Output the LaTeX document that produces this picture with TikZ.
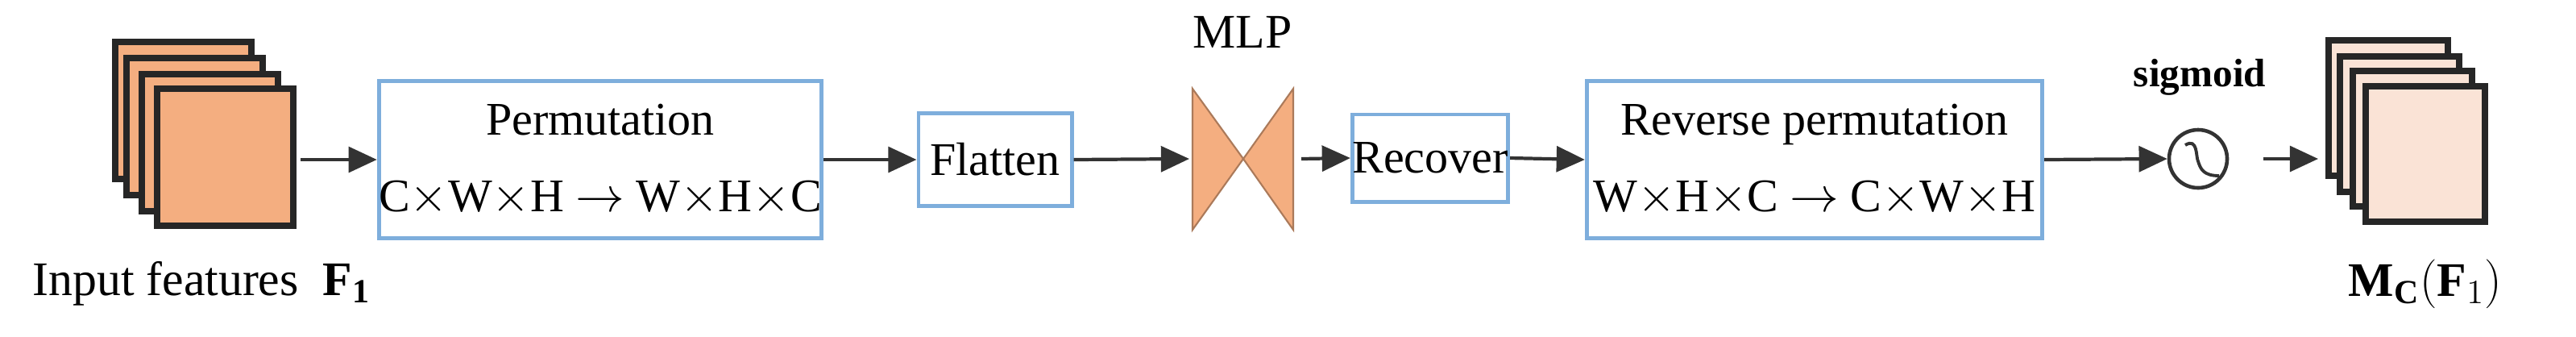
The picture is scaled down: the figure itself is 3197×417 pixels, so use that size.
\documentclass[tikz,border=0pt]{standalone}
\usepackage{fontspec}
\setmainfont{Liberation Serif}
\usetikzlibrary{arrows.meta}
\definecolor{org}{HTML}{F4AE80}
\definecolor{lorg}{HTML}{FAE3D6}
\definecolor{bblue}{HTML}{7EAEDC}
\begin{document}
\begin{tikzpicture}[x=0.01cm,y=-0.01cm,
  box/.style={draw=bblue,line width=1.4pt,fill=white,align=center,inner sep=0pt,font=\fontsize{16.5}{22}\selectfont},
  arr/.style={-{Triangle[length=10pt,width=9pt]},line width=1.2pt,draw=black!80},
  sq/.style={draw=black!85,line width=2.2pt},
  lab/.style={font=\fontsize{17}{21}\selectfont}]
\useasboundingbox (0,0) rectangle (3197,417);
% left stack
\foreach \dx/\dy in {0/0,14/20,33/40,52/58}
  \filldraw[sq,fill=org] (143+\dx,52+\dy) rectangle ++(169,170);
\node[coordinate] (in) at (373,198) {};
\node[lab,anchor=west] (inlab) at (28,352) {Input features \ \textbf{F\textsubscript{1}}};
% boxes
\node[box,minimum width=5.1cm,minimum height=1.95cm] (perm) at (745,198) {Permutation\\[5pt] C$\times$W$\times$H $\rightarrow$ W$\times$H$\times$C};
\node[box,minimum width=1.9cm,minimum height=1.15cm] (flat) at (1235,198) {Flatten};
% MLP bowtie
\filldraw[fill=org,draw=org!70!black,line width=0.6pt] (1480,110) -- (1480,285) -- (1543,197) -- cycle;
\filldraw[fill=org,draw=org!70!black,line width=0.6pt] (1605,110) -- (1605,285) -- (1543,197) -- cycle;
\node[coordinate] (mlpL) at (1476,197) {};
\node[coordinate] (mlpR) at (1615,197) {};
\node[lab] (mlp) at (1542,40) {MLP};
\node[box,minimum width=1.9cm,minimum height=1.08cm] (rec) at (1775,196) {Recover};
\node[box,minimum width=5.65cm,minimum height=1.95cm] (rperm) at (2252,198) {Reverse permutation\\[5pt] W$\times$H$\times$C $\rightarrow$ C$\times$W$\times$H};
% sigmoid
\node[draw=black!80,line width=1.3pt,circle,minimum size=0.72cm,inner sep=0] (sig) at (2728,197) {};
\draw[black!80,line width=1.1pt] (2712,180) .. controls (2728,170) and (2725,195) .. (2728,200) .. controls (2731,210) and (2735,218) .. (2754,218);
\node[font=\bfseries\fontsize{14}{17}\selectfont] (siglab) at (2730,96) {sigmoid};
% right stack
\foreach \dx/\dy in {0/0,14/20,30/38,46/57}
  \filldraw[sq,fill=lorg] (2890+\dx,50+\dy) rectangle ++(148,168);
\node[coordinate] (out) at (2877,197) {};
\node[lab] (outlab) at (3010,352) {$\mathbf{M}_{\mathbf{C}}(\mathbf{F}_{1})$};
% arrows
\draw[arr] (in) -- (perm.west);
\draw[arr] (perm.east) -- (flat.west);
\draw[arr] (flat.east) -- (mlpL);
\draw[arr] (mlpR) -- (rec.west);
\draw[arr] (rec.east) -- (rperm.west);
\draw[arr] (rperm.east) -- (sig.west);
\draw[arr] ([xshift=12]sig.east) -- (out);
\end{tikzpicture}
\end{document}
